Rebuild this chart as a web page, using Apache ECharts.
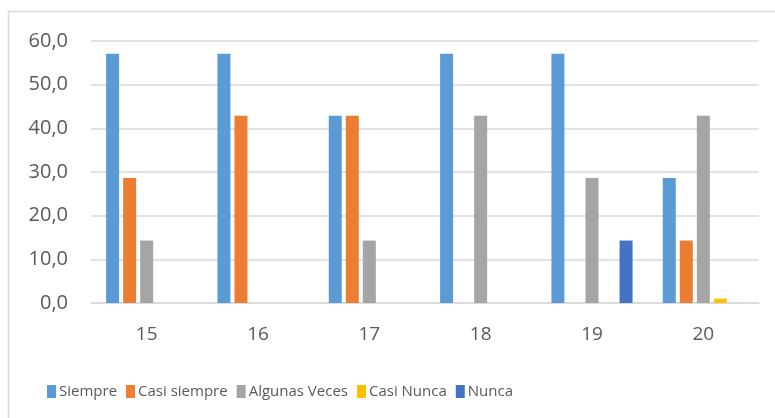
<!DOCTYPE html>
<html>
<head>
<meta charset="utf-8">
<script src="https://cdn.jsdelivr.net/npm/echarts@6/dist/echarts.min.js"></script>
<style>
  html, body { margin: 0; padding: 0; background: #ffffff; }
  #chart { width: 775px; height: 418px; }
</style>
</head>
<body>
<div id="chart"></div>
<script>
const categories = ['15', '16', '17', '18', '19', '20']
const seriesNames = ['Siempre', 'Casi siempre', 'Algunas Veces', 'Casi Nunca', 'Nunca']
const siempre = [57.1, 57.1, 42.9, 57.1, 57.1, 28.6]
const casiSiempre = [28.6, 42.9, 42.9, 0, 0, 14.3]
const algunasVeces = [14.3, 0, 14.3, 42.9, 28.6, 42.9]
const casiNunca = [0, 0, 0, 0, 0, 1.0]
const nunca = [0, 0, 0, 0, 14.3, 0]
const colors = ['#5B9BD5', '#ED7D31', '#A5A5A5', '#FFC000', '#4472C4']

const chart = echarts.init(document.getElementById('chart'))
const values = [siempre, casiSiempre, algunasVeces, casiNunca, nunca]

const option = {
  animation: false,
  textStyle: { fontFamily: 'Open Sans' },
  color: colors,
  graphic: [{
    type: 'rect',
    shape: { x: 8.5, y: 11.5, width: 800, height: 420 },
    style: { fill: 'none', stroke: '#D9D9D9', lineWidth: 1.5 },
    silent: true
  }],
  legend: {
    left: 42,
    top: 379,
    itemWidth: 9,
    itemHeight: 13,
    itemGap: 9,
    icon: 'rect',
    textStyle: {
      fontFamily: 'Open Sans',
      fontSize: 15,
      color: '#595959',
      padding: [0, 0, 0, -2]
    },
    data: seriesNames
  },
  grid: {
    left: 91,
    right: 16,
    top: 41,
    bottom: 115
  },
  xAxis: {
    type: 'category',
    data: categories,
    axisLine: { lineStyle: { color: '#D9D9D9', width: 1.5 } },
    axisTick: { show: false },
    axisLabel: { color: '#595959', fontSize: 19, margin: 22 }
  },
  yAxis: {
    type: 'value',
    min: 0,
    max: 60,
    interval: 10,
    axisLine: { show: false },
    axisTick: { show: false },
    axisLabel: {
      color: '#595959',
      fontSize: 20,
      margin: 23,
      formatter: v => v.toFixed(1).replace('.', ',')
    },
    splitLine: { lineStyle: { color: '#D9D9D9', width: 1.5 } }
  },
  series: seriesNames.map((name, i) => ({
    name,
    type: 'bar',
    data: values[i],
    barWidth: 13,
    barGap: '31%',
    barCategoryGap: '27%',
    itemStyle: { color: colors[i] }
  }))
}
chart.setOption(option)
</script>
</body>
</html>
